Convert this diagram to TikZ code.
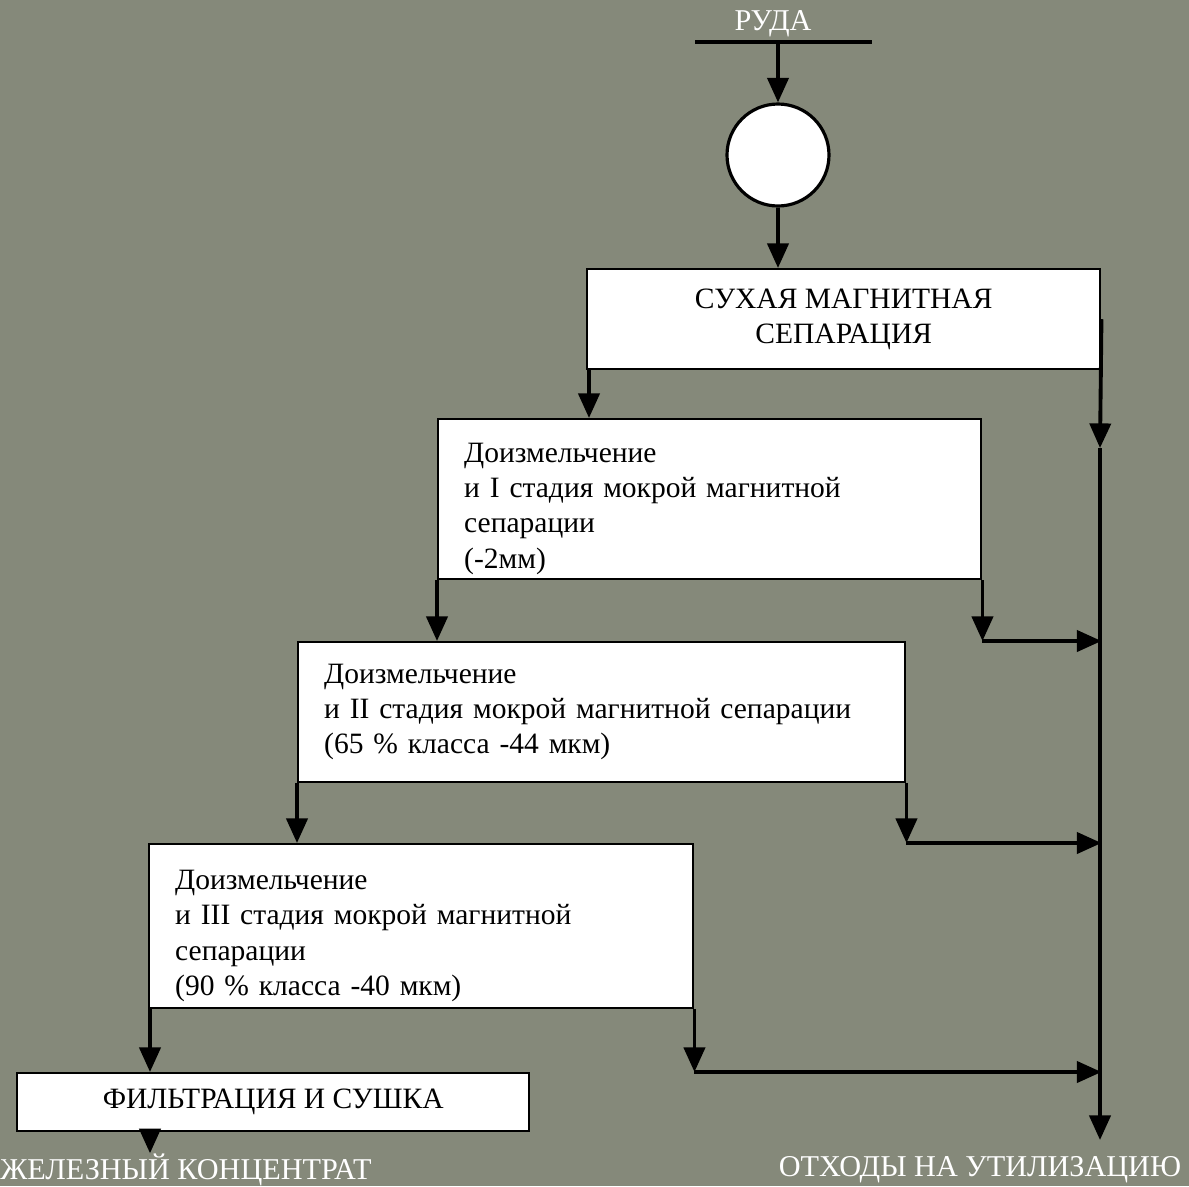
\documentclass[tikz,border=0pt]{standalone}
\usepackage{fontspec}
\setmainfont{Liberation Serif}
\usetikzlibrary{arrows.meta}
\definecolor{slate}{RGB}{133,137,122}
\begin{document}
\begin{tikzpicture}
[>={Triangle[length=7pt,width=6pt]},
 box/.style={draw,fill=white,line width=0.7pt,anchor=north west,inner xsep=0.26cm,inner ysep=0pt,
   font=\fontsize{8.4}{10}\selectfont},
 flow/.style={line width=1.1pt},
 lbl/.style={text=white,font=\fontsize{8.6}{10}\selectfont,inner sep=0pt}]
\fill[slate] (0,0) rectangle (11.89,-11.86);
\useasboundingbox (0,0) rectangle (11.89,-11.86);

\node[lbl] (ruda) at (7.73,-0.24) {РУДА};
\coordinate (feedl) at (6.95,-0.42);
\coordinate (feedr) at (8.72,-0.42);
\coordinate (feed) at (7.78,-0.42);
\node[circle,draw,fill=white,line width=0.9pt,minimum size=1.02cm,inner sep=0pt] (crush) at (7.78,-1.55) {};

\node[box,minimum width=5.13cm,minimum height=1.00cm,align=center] (b1) at (5.86,-2.68)
  {СУХАЯ МАГНИТНАЯ\\СЕПАРАЦИЯ};
\node[box,minimum height=1.60cm,text width=4.91cm,align=left] (b2) at (4.37,-4.18)
  {\rule{0pt}{11pt}Доизмельчение\\и I стадия мокрой магнитной\\сепарации\\(-2мм)};
\node[box,minimum height=1.40cm,text width=5.55cm,align=left] (b3) at (2.97,-6.41)
  {Доизмельчение\\и II стадия мокрой магнитной сепарации\\(65 \% класса -44 мкм)};
\node[box,minimum height=1.64cm,text width=4.92cm,align=left] (b4) at (1.48,-8.43)
  {\rule{0pt}{11pt}Доизмельчение\\и III стадия мокрой магнитной\\сепарации\\(90 \% класса -40 мкм)};
\node[box,minimum width=5.12cm,minimum height=0.58cm,align=center] (b5) at (0.16,-10.72)
  {ФИЛЬТРАЦИЯ И СУШКА};

\node[lbl] (conc) at (1.86,-11.70) {ЖЕЛЕЗНЫЙ КОНЦЕНТРАТ};
\node[lbl] (waste) at (9.80,-11.70) {ОТХОДЫ НА УТИЛИЗАЦИЮ};

% waste trunk
\coordinate (t0) at (b1.east);
\coordinate (t1) at (11.00,-4.48);
\coordinate (tend) at (11.00,-11.40);
% product line below the filter
\coordinate (p0) at ([xshift=0.02cm]b4.south west |- b5.south);

\draw[flow] (feedl) -- (feedr);
\draw[flow,->] (feed) -- (crush.north);
\draw[flow,->] (crush.south) -- (crush.south |- b1.north);

\draw[flow,->] ([xshift=0.03cm]b1.south west) -- ([xshift=0.03cm]b1.south west |- b2.north);
\draw[flow,->] (b2.south west) -- (b2.south west |- b3.north);
\draw[flow,->] (b3.south west) -- (b3.south west |- b4.north);
\draw[flow,->] ([xshift=0.02cm]b4.south west) -- ([xshift=0.02cm]b4.south west |- b5.north);
\draw[flow,->] (p0) -- (p0 |- conc.north);

\draw[flow,->] (t0) -- (t1);
\draw[flow,->] (t1) -- (tend);

\draw[flow,->] (b2.south east) -- (b2.south east |- b3.north);
\draw[flow,->] (b2.south east |- b3.north) -- (t0 |- b3.north);
\draw[flow,->] (b3.south east) -- (b3.south east |- b4.north);
\draw[flow,->] (b3.south east |- b4.north) -- (t0 |- b4.north);
\draw[flow,->] (b4.south east) -- (b4.south east |- b5.north);
\draw[flow,->] (b4.south east |- b5.north) -- (t0 |- b5.north);
\end{tikzpicture}
\end{document}
